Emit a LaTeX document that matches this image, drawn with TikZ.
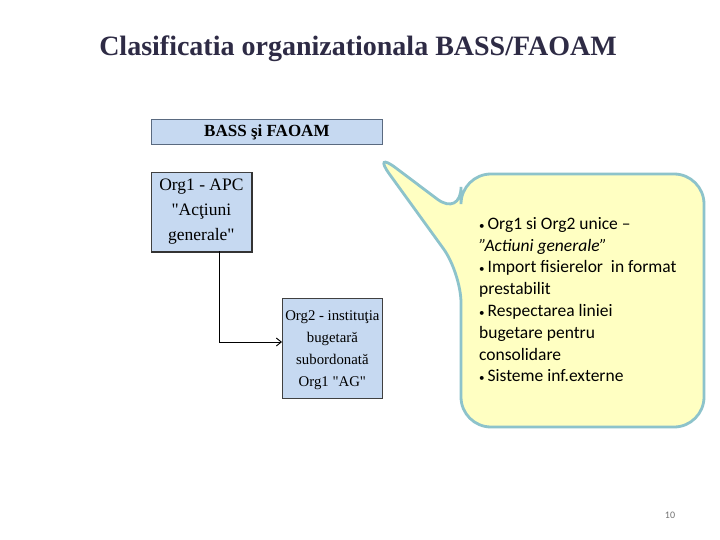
\documentclass[tikz,border=0pt]{standalone}
\usetikzlibrary{arrows.meta}
\usepackage{fontspec}
\setmainfont{Liberation Serif}[Ligatures=TeXOff]
\newfontfamily\calib{Carlito}
\definecolor{boxfill}{HTML}{C6D9F1}
\definecolor{boxline}{HTML}{5A6A80}
\definecolor{callfill}{HTML}{FFFFC2}
\definecolor{callline}{HTML}{8DC3CB}
\definecolor{titlecol}{HTML}{2E2B45}
\tikzset{
  orgbox/.style={draw=boxline, fill=boxfill, line width=0.8pt, inner sep=0pt, align=center, anchor=north west},
  shadowline/.style={draw=black!80, line width=1.6pt},
}
\newcommand{\bul}{{\fontsize{11}{11}\selectfont•}\,}
\begin{document}
\begin{tikzpicture}[x=1pt,y=-1pt]
\useasboundingbox (0,0) rectangle (720,540);
\fill[white] (0,0) rectangle (720,540);
\node[text=titlecol, font=\bfseries\fontsize{28}{32}\selectfont] (title) at (358,49) {Clasificatia organizationala BASS/FAOAM};
% header
\node[orgbox, minimum width=231pt, minimum height=25pt, font=\bfseries\fontsize{17}{20}\selectfont] (hdr) at (151,119) {BASS şi FAOAM};
% org1
\node[orgbox, draw=black!75, minimum width=100pt, minimum height=79pt, font=\fontsize{17.5}{25}\selectfont] (org1) at (151,172) {Org1 - APC\\"Acţiuni\\generale"};
\draw[shadowline] (org1.south west) -- (org1.south east) -- (org1.north east);
% org2
\node[orgbox, draw=black!75, minimum width=100pt, minimum height=100pt, text depth=0pt, font=\fontsize{14.8}{22.2}\selectfont] (org2) at (282,298) {Org2 - instituţia\\bugetară\\subordonată\\Org1 "AG"};
\coordinate (start) at (219,251);
\draw[line width=0.9pt, -{Straight Barb[length=5pt,width=8pt]}] (start) |- (org2.west |- 0,342);
% callout
\coordinate (tip) at (372,150);
\path[draw=callline, line width=2.8pt, fill=callfill, rounded corners=30pt]
  (461,217) -- ([rounded corners=0pt]tip) -- ([rounded corners=0pt]461,273) -- (461,427) -- (704,427) -- (704,174) -- (461,174) -- cycle;
\node[anchor=north west, align=left, font=\calib\fontsize{17.5}{21.8}\selectfont, inner sep=0pt] (txt) at (479,217) {%
\bul Org1 si Org2 unice –\\
\textit{”Actiuni generale”}\\
\bul Import fisierelor\ \ in format\\
prestabilit\\
\bul Respectarea liniei\\
bugetare pentru\\
consolidare\\
\bul Sisteme inf.externe};
\node[text=black!55, font=\calib\fontsize{10}{12}\selectfont] (pg) at (670,515) {10};
\end{tikzpicture}
\end{document}
